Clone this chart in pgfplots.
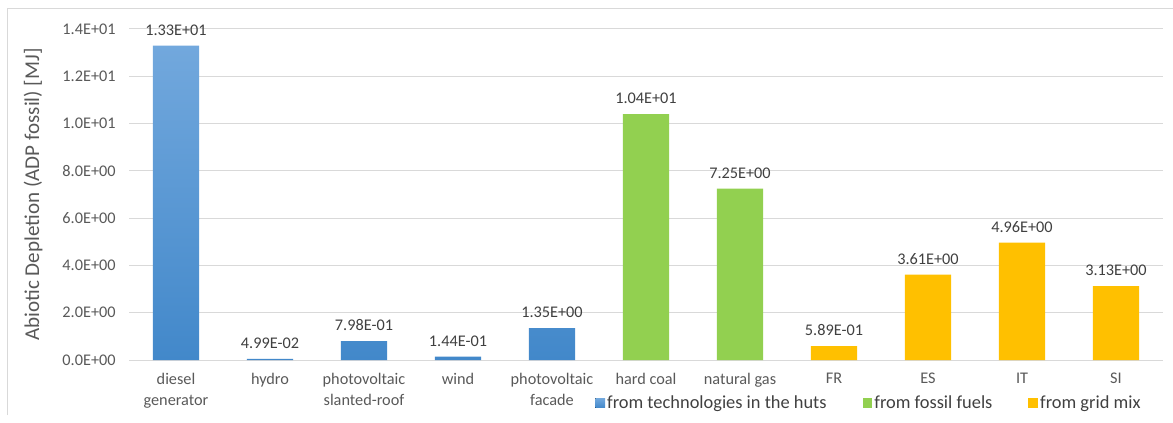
\documentclass[border=0pt]{standalone}
\usepackage{pgfplots}
\pgfplotsset{compat=1.18}
\usepackage{fontspec}
\setmainfont{Carlito}

\definecolor{gridgray}{RGB}{217,217,217}
\definecolor{framegray}{RGB}{217,217,217}
\definecolor{ticktext}{RGB}{89,89,89}
\definecolor{labeltext}{RGB}{64,64,64}
\definecolor{bluetop}{RGB}{114,168,221}
\definecolor{bluebot}{RGB}{66,136,202}
\definecolor{fossilgreen}{RGB}{146,208,80}
\definecolor{gridorange}{RGB}{255,192,0}

\begin{document}
\begin{tikzpicture}[x=0.75pt,y=0.75pt]
\useasboundingbox (0,0) rectangle (1173,422);
% outer chart frame (top and left edges)
\draw[framegray,line width=0.75pt] (7,7) -- (7,413) -- (1173,413);

\begin{axis}[
  at={(96.75pt,46.5pt)}, anchor=south west,
  width=775.5pt, height=248.25pt, scale only axis,
  xmin=-0.5, xmax=10.5, ymin=0, ymax=14,
  ybar, bar width=0.49, bar shift=0pt,
  axis x line*=bottom, axis y line*=left,
  x axis line style={draw=gridgray, line width=0.75pt, -},
  y axis line style={draw=none},
  major tick length=0pt,
  ymajorgrids, grid style={draw=gridgray, line width=0.75pt},
  ytick={0,2,4,6,8,10,12,14},
  yticklabels={0.0E+00,2.0E+00,4.0E+00,6.0E+00,8.0E+00,1.0E+01,1.2E+01,1.4E+01},
  yticklabel style={font=\fontsize{12.2}{14}\selectfont, text=ticktext, xshift=-6.5pt},
  xtick={0,...,10},
  xticklabels={{diesel\\generator},hydro,{photovoltaic\\slanted-roof},wind,{photovoltaic\\facade},hard coal,natural gas,FR,ES,IT,SI},
  xticklabel style={font=\fontsize{12.2}{15.75}\selectfont, text=ticktext, align=center, anchor=north, yshift=-6.5pt},
  every axis y label/.style={at={(axis description cs:-0.0928,0.5)}, rotate=90, anchor=center},
  ylabel={Abiotic Depletion (ADP fossil) [MJ]},
  ylabel style={font=\fontsize{15.8}{18}\selectfont, text=ticktext},
  point meta=explicit symbolic,
  nodes near coords={\pgfplotspointmeta},
  every node near coord/.append style={font=\fontsize{12.2}{14}\selectfont, text=labeltext, yshift=4pt},
  legend columns=3,
  legend style={at={(0.447,-0.13)}, anchor=west, draw=none, fill=none,
    font=\fontsize{13.8}{15}\selectfont, text=labeltext,
    /tikz/every even column/.append style={column sep=25pt},
    /tikz/every odd column/.append style={column sep=-0.5pt}},
  legend image code/.code={\fill[#1] (0pt,-3.6pt) rectangle (7.3pt,3.6pt);},
  clip=false,
]
\addplot[draw=none, top color=bluetop, bottom color=bluebot] coordinates {
  (0,13.3) [1.33E+01]
  (1,0.0499) [4.99E-02]
  (2,0.798) [7.98E-01]
  (3,0.144) [1.44E-01]
  (4,1.35) [1.35E+00]
};
\addlegendentry{from technologies in the huts}
\addplot[draw=none, fill=fossilgreen] coordinates {
  (5,10.4) [1.04E+01]
  (6,7.25) [7.25E+00]
};
\addlegendentry{from fossil fuels}
\addplot[draw=none, fill=gridorange] coordinates {
  (7,0.589) [5.89E-01]
  (8,3.61) [3.61E+00]
  (9,4.96) [4.96E+00]
  (10,3.13) [3.13E+00]
};
\addlegendentry{from grid mix}
\end{axis}
\end{tikzpicture}
\end{document}
